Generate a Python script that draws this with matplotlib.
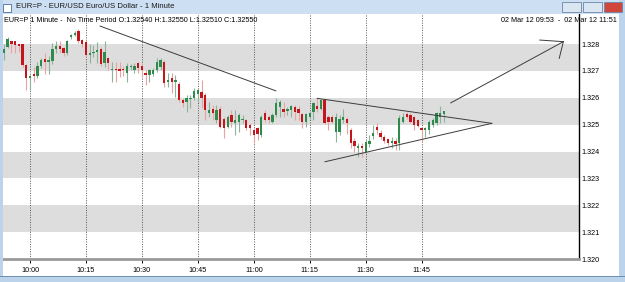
import matplotlib
matplotlib.use("Agg")
import matplotlib.pyplot as plt
from matplotlib.patches import Rectangle
import numpy as np

# 1-minute EUR/USD candles, 09:53 .. 11:51
opens = [1.32765, 1.32790, 1.32810, 1.32810, 1.32800, 1.32800, 1.32722, 1.32675, 1.32690, 1.32680,
         1.32718, 1.32745, 1.32733, 1.32738, 1.32780, 1.32792, 1.32786, 1.32768, 1.32825, 1.32832,
         1.32848, 1.32815, 1.32809, 1.32759, 1.32765, 1.32771, 1.32780, 1.32730, 1.32750, 1.32703,
         1.32709, 1.32709, 1.32706, 1.32691, 1.32713, 1.32703, 1.32728, 1.32718, 1.32693, 1.32685,
         1.32690, 1.32703, 1.32713, 1.32734, 1.32660, 1.32672, 1.32660, 1.32651, 1.32592, 1.32585,
         1.32594, 1.32601, 1.32614, 1.32623, 1.32610, 1.32542, 1.32560, 1.32517, 1.32560, 1.32523,
         1.32492, 1.32536, 1.32505, 1.32511, 1.32517, 1.32517, 1.32498, 1.32480, 1.32486, 1.32461,
         1.32542, 1.32529, 1.32511, 1.32536, 1.32567, 1.32560, 1.32552, 1.32554, 1.32567, 1.32560,
         1.32538, 1.32511, 1.32530, 1.32548, 1.32569, 1.32560, 1.32592, 1.32529, 1.32529, 1.32474,
         1.32474, 1.32517, 1.32520, 1.32480, 1.32440, 1.32412, 1.32420, 1.32399, 1.32428, 1.32457,
         1.32492, 1.32470, 1.32455, 1.32445, 1.32430, 1.32440, 1.32430, 1.32511, 1.32540, 1.32536,
         1.32527, 1.32517, 1.32489, 1.32480, 1.32480, 1.32499, 1.32505, 1.32530, 1.32540]
closes = [1.32780, 1.32820, 1.32800, 1.32798, 1.32792, 1.32722, 1.32672, 1.32680, 1.32680, 1.32718,
          1.32740, 1.32733, 1.32740, 1.32780, 1.32792, 1.32782, 1.32768, 1.32810, 1.32832, 1.32842,
          1.32810, 1.32800, 1.32759, 1.32765, 1.32771, 1.32778, 1.32725, 1.32770, 1.32730, 1.32709,
          1.32703, 1.32700, 1.32703, 1.32718, 1.32716, 1.32718, 1.32712, 1.32703, 1.32685, 1.32703,
          1.32703, 1.32734, 1.32740, 1.32654, 1.32666, 1.32660, 1.32666, 1.32592, 1.32582, 1.32598,
          1.32601, 1.32626, 1.32629, 1.32598, 1.32554, 1.32554, 1.32542, 1.32554, 1.32492, 1.32486,
          1.32529, 1.32511, 1.32517, 1.32536, 1.32523, 1.32486, 1.32486, 1.32461, 1.32467, 1.32529,
          1.32517, 1.32517, 1.32536, 1.32579, 1.32585, 1.32548, 1.32560, 1.32569, 1.32548, 1.32542,
          1.32511, 1.32538, 1.32545, 1.32579, 1.32560, 1.32592, 1.32505, 1.32511, 1.32511, 1.32529,
          1.32523, 1.32529, 1.32505, 1.32430, 1.32420, 1.32420, 1.32412, 1.32436, 1.32440, 1.32470,
          1.32480, 1.32455, 1.32440, 1.32432, 1.32440, 1.32428, 1.32525, 1.32530, 1.32530, 1.32511,
          1.32499, 1.32495, 1.32480, 1.32486, 1.32511, 1.32517, 1.32542, 1.32542, 1.32550]
highs = [1.32800, 1.32825, 1.32812, 1.32812, 1.32802, 1.32802, 1.32725, 1.32684, 1.32715, 1.32735,
         1.32750, 1.32765, 1.32755, 1.32803, 1.32810, 1.32810, 1.32790, 1.32815, 1.32837, 1.32850,
         1.32858, 1.32820, 1.32815, 1.32802, 1.32796, 1.32809, 1.32790, 1.32810, 1.32752, 1.32734,
         1.32734, 1.32734, 1.32720, 1.32730, 1.32725, 1.32730, 1.32734, 1.32728, 1.32703, 1.32709,
         1.32710, 1.32747, 1.32747, 1.32740, 1.32691, 1.32691, 1.32685, 1.32660, 1.32598, 1.32610,
         1.32610, 1.32635, 1.32635, 1.32665, 1.32617, 1.32585, 1.32573, 1.32573, 1.32569, 1.32529,
         1.32535, 1.32554, 1.32554, 1.32542, 1.32535, 1.32523, 1.32505, 1.32486, 1.32492, 1.32535,
         1.32554, 1.32535, 1.32542, 1.32598, 1.32592, 1.32585, 1.32567, 1.32573, 1.32573, 1.32569,
         1.32542, 1.32545, 1.32548, 1.32585, 1.32598, 1.32594, 1.32594, 1.32536, 1.32536, 1.32542,
         1.32535, 1.32560, 1.32529, 1.32486, 1.32449, 1.32430, 1.32430, 1.32443, 1.32461, 1.32498,
         1.32505, 1.32480, 1.32460, 1.32452, 1.32455, 1.32449, 1.32536, 1.32545, 1.32548, 1.32542,
         1.32533, 1.32520, 1.32492, 1.32492, 1.32517, 1.32525, 1.32548, 1.32569, 1.32550]
lows = [1.32740, 1.32785, 1.32765, 1.32765, 1.32770, 1.32716, 1.32629, 1.32629, 1.32660, 1.32675,
        1.32710, 1.32690, 1.32690, 1.32725, 1.32765, 1.32765, 1.32755, 1.32760, 1.32820, 1.32830,
        1.32805, 1.32790, 1.32753, 1.32728, 1.32753, 1.32728, 1.32720, 1.32715, 1.32705, 1.32660,
        1.32660, 1.32679, 1.32680, 1.32660, 1.32705, 1.32691, 1.32691, 1.32679, 1.32648, 1.32660,
        1.32680, 1.32697, 1.32703, 1.32641, 1.32641, 1.32617, 1.32604, 1.32585, 1.32567, 1.32548,
        1.32561, 1.32592, 1.32585, 1.32561, 1.32517, 1.32529, 1.32517, 1.32505, 1.32486, 1.32449,
        1.32486, 1.32492, 1.32461, 1.32474, 1.32505, 1.32480, 1.32461, 1.32430, 1.32443, 1.32455,
        1.32511, 1.32505, 1.32505, 1.32529, 1.32529, 1.32529, 1.32536, 1.32529, 1.32517, 1.32517,
        1.32486, 1.32492, 1.32520, 1.32517, 1.32548, 1.32554, 1.32502, 1.32480, 1.32505, 1.32436,
        1.32461, 1.32505, 1.32467, 1.32412, 1.32397, 1.32381, 1.32381, 1.32393, 1.32418, 1.32448,
        1.32467, 1.32445, 1.32430, 1.32425, 1.32415, 1.32405, 1.32405, 1.32505, 1.32520, 1.32505,
        1.32480, 1.32490, 1.32436, 1.32455, 1.32467, 1.32490, 1.32499, 1.32505, 1.32510]

tick_labels = ["10:00", "10:15", "10:30", "10:45", "11:00", "11:15", "11:30", "11:45"]
price_ticks = [1.320, 1.321, 1.322, 1.323, 1.324, 1.325, 1.326, 1.327, 1.328]
bands = [(1.321, 1.322), (1.323, 1.324), (1.325, 1.326), (1.327, 1.328)]

# hand-drawn trend lines: (bar index, price) pairs
trend_lines = [
    [(25.8, 1.32867), (72.9, 1.32626)],
    [(84.0, 1.32598), (130.8, 1.32505)],
    [(86.1, 1.32362), (130.8, 1.32505)],
    [(119.8, 1.32581), (150.0, 1.32809)],
    [(143.7, 1.32815), (150.0, 1.32809)],
    [(148.9, 1.32747), (150.0, 1.32809)],
]

title = "EUR=P - EUR/USD Euro/US Dollar - 1 Minute"
header = "EUR=P 1 Minute -  No Time Period O:1.32540 H:1.32550 L:1.32510 C:1.32550"
period = "02 Mar 12 09:53  -  02 Mar 12 11:51"

W, H = 625, 282
fig = plt.figure(figsize=(W / 100, H / 100), dpi=100)
fig.patch.set_facecolor("white")
plt.rcParams["font.family"] = ["Liberation Sans", "DejaVu Sans"]


def fx(px):
    return px / W


def fy(py):
    return 1 - py / H


# window chrome
fig.patches.append(Rectangle((0, fy(14)), 1, 14 / H, transform=fig.transFigure,
                             facecolor="#cddff2", edgecolor="none"))
fig.patches.append(Rectangle((0, 0), fx(3), 1, transform=fig.transFigure,
                             facecolor="#bcd3ec", edgecolor="none"))
fig.patches.append(Rectangle((fx(619), 0), fx(6), 1, transform=fig.transFigure,
                             facecolor="#bcd3ec", edgecolor="none"))
fig.patches.append(Rectangle((0, 0), 1, 6 / H, transform=fig.transFigure,
                             facecolor="#bcd3ec", edgecolor="none"))
fig.patches.append(Rectangle((0, fy(277)), 1, 1 / H, transform=fig.transFigure,
                             facecolor="#6f8fb0", edgecolor="none"))
fig.patches.append(Rectangle((fx(3), fy(12)), fx(8), 8 / H, transform=fig.transFigure,
                             facecolor="white", edgecolor="#4a6fa0", lw=0.6))
for x0, w, c in [(562, 19, "#dbe6f3"), (583, 19, "#dbe6f3"), (604, 18, "#d0463a")]:
    fig.patches.append(Rectangle((fx(x0), fy(12)), fx(w), 10 / H, transform=fig.transFigure,
                                 facecolor=c, edgecolor="#6d86a6", lw=0.6))
fig.text(fx(16), fy(7), title, fontsize=5.6, va="center", ha="left", color="#1a1a1a")

ax = fig.add_axes([fx(3), fy(259), fx(579) - fx(3), fy(14) - fy(259)])
ax.set_facecolor("white")

for lo, hi in bands:
    ax.axhspan(lo, hi, color="#dddddd", lw=0, zorder=0)

idx = np.arange(len(opens))
o = np.array(opens)
c = np.array(closes)
up = c >= o
body_col = np.where(up, "#2f8a4e", "#c3161c")
wick_col = np.where(up, "#8fb39a", "#e9a3a3")
ax.vlines(idx, lows, highs, colors=wick_col, lw=0.8, zorder=2)
heights = np.maximum(np.abs(c - o), 0.00004)
ax.bar(idx, heights, bottom=np.minimum(o, c), width=0.62, color=body_col, lw=0, zorder=3)

for line in trend_lines:
    xs, ys = zip(*line)
    ax.plot(xs, ys, color="#3c3c3c", lw=0.7, zorder=4)

tick_pos = [(int(t[:2]) * 60 + int(t[3:])) - (9 * 60 + 53) for t in tick_labels]
ax.set_xticks(tick_pos)
ax.set_xticklabels(tick_labels, fontsize=5.2)
ax.grid(axis="x", linestyle=(0, (1, 1.5)), color="#555555", lw=0.7, zorder=1)
ax.set_yticks(price_ticks)
ax.set_yticklabels([f"{p:.3f}" for p in price_ticks], fontsize=5.2)
ax.yaxis.tick_right()
ax.tick_params(axis="y", length=0, pad=2)
ax.tick_params(axis="x", length=3, width=0.7, pad=3, color="black")

ax.set_xlim(-0.24, 154.2)
ax.set_ylim(1.3200, 1.32912)
for s in ["top", "left"]:
    ax.spines[s].set_visible(False)
ax.spines["right"].set_color("black")
ax.spines["right"].set_linewidth(1.0)
ax.spines["bottom"].set_color("#9a9a9a")
ax.spines["bottom"].set_linewidth(2.0)

fig.text(fx(4), fy(20), header, fontsize=5.2, va="center", ha="left", color="black")
fig.text(fx(617), fy(20), period, fontsize=5.2, va="center", ha="right", color="black")

fig.savefig("out.png", dpi=100, facecolor=fig.get_facecolor())
